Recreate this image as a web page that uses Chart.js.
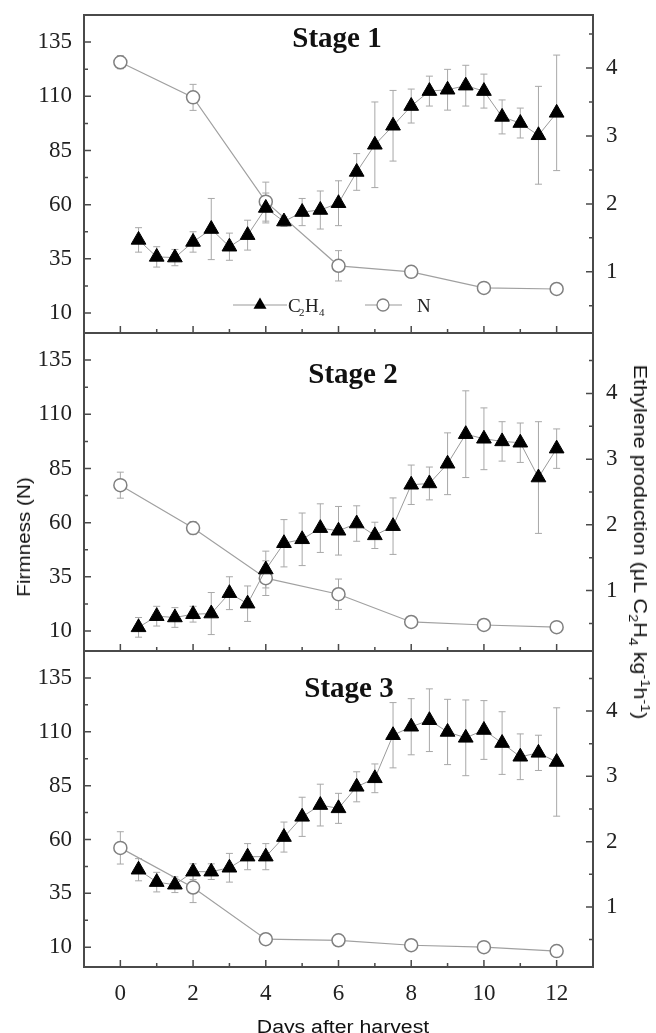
<!DOCTYPE html>
<html>
<head>
<meta charset="utf-8">
<script src="https://cdn.jsdelivr.net/npm/chart.js@4.4.1/dist/chart.umd.min.js"></script>
<style>
  html, body { margin: 0; padding: 0; background: #fff; }
  #wrap { position: relative; width: 656px; height: 1033px; overflow: hidden; }
  canvas { position: absolute; left: 0; }
  .axis-title {
    position: absolute;
    font-family: 'Liberation Sans', Arial, sans-serif;
    font-size: 18px;
    color: #111;
    white-space: nowrap;
    line-height: 18px;
  }
  .axis-title sub, .axis-title sup { font-size: 12px; line-height: 0; }
  #yLeftTitle { left: 24px; top: 537px; transform: translate(-50%, -50%) rotate(-90deg) scaleX(1.15); }
  #yRightTitle { left: 640px; top: 542px; transform: translate(-50%, -50%) rotate(90deg) scaleX(1.2); }
  #xTitle { left: 343px; top: 1018px; transform: translateX(-50%) scaleX(1.18); }
</style>
</head>
<body>
<div id="wrap">
  <canvas id="stage1" width="656" height="340" style="top:0px"></canvas>
  <canvas id="stage2" width="656" height="340" style="top:318px"></canvas>
  <canvas id="stage3" width="656" height="397" style="top:636px"></canvas>
  <div class="axis-title" id="yLeftTitle">Firmness (N)</div>
  <div class="axis-title" id="yRightTitle">Ethylene production (μL C<sub>2</sub>H<sub>4</sub> kg<sup>-1</sup>h<sup>-1</sup>)</div>
  <div class="axis-title" id="xTitle">Days after harvest</div>
</div>
<script>
// Firmness (N) and ethylene (C2H4) after harvest, three ripening stages

const ethDays = [0.5, 1, 1.5, 2, 2.5, 3, 3.5, 4, 4.5, 5, 5.5, 6, 6.5, 7, 7.5, 8, 8.5, 9, 9.5, 10, 10.5, 11, 11.5, 12];
const firmDays = [0, 2, 4, 6, 8, 10, 12];

const xTicks = [0, 2, 4, 6, 8, 10, 12];
const xMinorTicks = [1, 3, 5, 7, 9, 11];
const firmTicks = [10, 35, 60, 85, 110, 135];
const firmMinorTicks = [22.5, 47.5, 72.5, 97.5, 122.5];
const ethTicks = [1, 2, 3, 4];
const ethMinorTicks = [0.5, 1.5, 2.5, 3.5, 4.5];

const stageNames = ['Stage 1', 'Stage 2', 'Stage 3'];

// Stage 1
const eth1 = [1.47, 1.22, 1.21, 1.44, 1.63, 1.37, 1.54, 1.94, 1.74, 1.88, 1.91, 2.01, 2.47, 2.87, 3.15, 3.44, 3.66, 3.68, 3.74, 3.66, 3.28, 3.19, 3.01, 3.34];
const eth1Err = [0.18, 0.15, 0.12, 0.15, 0.45, 0.2, 0.22, 0.22, 0.07, 0.2, 0.28, 0.33, 0.27, 0.63, 0.52, 0.25, 0.22, 0.3, 0.3, 0.25, 0.25, 0.22, 0.72, 0.85];
const firm1 = [125.7, 109.5, 61.4, 31.8, 29, 21.6, 21.1];
const firm1Err = [3, 6, 9, 7, 2.5, 1.5, 1.5];

// Stage 2
const eth2 = [0.44, 0.61, 0.59, 0.64, 0.65, 0.96, 0.80, 1.32, 1.72, 1.78, 1.95, 1.91, 2.02, 1.84, 1.98, 2.61, 2.63, 2.93, 3.38, 3.31, 3.27, 3.25, 2.72, 3.16];
const eth2Err = [0.15, 0.15, 0.15, 0.12, 0.32, 0.25, 0.27, 0.28, 0.36, 0.4, 0.37, 0.37, 0.27, 0.2, 0.43, 0.3, 0.25, 0.47, 0.66, 0.47, 0.3, 0.3, 0.85, 0.3];
const firm2 = [77.3, 57.5, 34.4, 27, 14.2, 12.8, 11.8];
const firm2Err = [6, 3, 8, 7, 1.5, 1.5, 1.5];

// Stage 3
const eth3 = [1.57, 1.38, 1.34, 1.54, 1.54, 1.6, 1.77, 1.77, 2.07, 2.38, 2.56, 2.51, 2.84, 2.97, 3.63, 3.76, 3.86, 3.68, 3.59, 3.71, 3.51, 3.3, 3.36, 3.22];
const eth3Err = [0.17, 0.15, 0.12, 0.12, 0.12, 0.22, 0.2, 0.2, 0.23, 0.3, 0.32, 0.23, 0.23, 0.22, 0.5, 0.43, 0.48, 0.5, 0.58, 0.45, 0.48, 0.35, 0.27, 0.83];
const firm3 = [56.1, 37.7, 13.7, 13.2, 10.9, 10, 8.2];
const firm3Err = [7.5, 7, 1.5, 1, 1.5, 1, 1.5];

const serif = '"Liberation Serif", "Times New Roman", serif';

function toPoints(xs, ys) {
  return xs.map((x, i) => ({ x: x, y: ys[i] }));
}

// error bars behind the markers
const errorBars = {
  id: 'errorBars',
  beforeDatasetsDraw(chart) {
    const ctx = chart.ctx;
    const xScale = chart.scales.x;
    ctx.save();
    ctx.strokeStyle = '#a8a8a8';
    ctx.lineWidth = 1;
    chart.data.datasets.forEach(ds => {
      const yScale = chart.scales[ds.yAxisID];
      ds.data.forEach((p, j) => {
        const e = ds.errors[j];
        const x = xScale.getPixelForValue(p.x);
        const y1 = yScale.getPixelForValue(p.y + e);
        const y2 = yScale.getPixelForValue(p.y - e);
        ctx.beginPath();
        ctx.moveTo(x, y1); ctx.lineTo(x, y2);
        ctx.moveTo(x - 3.5, y1); ctx.lineTo(x + 3.5, y1);
        ctx.moveTo(x - 3.5, y2); ctx.lineTo(x + 3.5, y2);
        ctx.stroke();
      });
    });
    ctx.restore();
  }
};

// box frame and inward tick marks
const frameAndTicks = {
  id: 'frameAndTicks',
  afterDraw(chart) {
    const { ctx, chartArea: a, scales } = chart;
    ctx.save();
    ctx.strokeStyle = '#4a4a4a';
    ctx.lineWidth = 1.5;
    ctx.beginPath();
    xTicks.forEach(v => { const x = scales.x.getPixelForValue(v); ctx.moveTo(x, a.bottom); ctx.lineTo(x, a.bottom - 7); });
    xMinorTicks.forEach(v => { const x = scales.x.getPixelForValue(v); ctx.moveTo(x, a.bottom); ctx.lineTo(x, a.bottom - 4); });
    firmTicks.forEach(v => { const y = scales.yFirm.getPixelForValue(v); ctx.moveTo(a.left, y); ctx.lineTo(a.left + 7, y); });
    firmMinorTicks.forEach(v => { const y = scales.yFirm.getPixelForValue(v); ctx.moveTo(a.left, y); ctx.lineTo(a.left + 4, y); });
    ethTicks.forEach(v => { const y = scales.yEth.getPixelForValue(v); ctx.moveTo(a.right, y); ctx.lineTo(a.right - 7, y); });
    ethMinorTicks.forEach(v => { const y = scales.yEth.getPixelForValue(v); ctx.moveTo(a.right, y); ctx.lineTo(a.right - 4, y); });
    ctx.stroke();
    ctx.lineWidth = 2;
    ctx.strokeRect(a.left, a.top, a.right - a.left, a.bottom - a.top);
    ctx.restore();
  }
};

function drawLegend(ctx, a) {
  const y = a.bottom - 28;
  ctx.save();
  ctx.strokeStyle = '#999';
  ctx.lineWidth = 1;
  ctx.beginPath();
  ctx.moveTo(a.left + 149, y); ctx.lineTo(a.left + 203, y);
  ctx.moveTo(a.left + 281, y); ctx.lineTo(a.left + 318, y);
  ctx.stroke();

  // triangle marker
  const tx = a.left + 176, r = 7.5;
  ctx.fillStyle = '#000';
  ctx.beginPath();
  ctx.moveTo(tx, y - r);
  ctx.lineTo(tx + r * 0.866, y + r * 0.5);
  ctx.lineTo(tx - r * 0.866, y + r * 0.5);
  ctx.closePath();
  ctx.fill();

  // circle marker
  ctx.fillStyle = '#fff';
  ctx.strokeStyle = '#808080';
  ctx.lineWidth = 1.3;
  ctx.beginPath();
  ctx.arc(a.left + 299, y, 6, 0, Math.PI * 2);
  ctx.fill();
  ctx.stroke();

  ctx.fillStyle = '#222';
  ctx.textBaseline = 'alphabetic';
  ctx.textAlign = 'left';
  const base = y + 7;
  ctx.font = '19px ' + serif;
  ctx.fillText('C', a.left + 204, base);
  ctx.fillText('H', a.left + 221, base);
  ctx.fillText('N', a.left + 333, base);
  ctx.font = '11px ' + serif;
  ctx.fillText('2', a.left + 215, base + 4);
  ctx.fillText('4', a.left + 235, base + 4);
  ctx.restore();
}

// stage title and legend inside the panel
const panelLabels = {
  id: 'panelLabels',
  afterDatasetsDraw(chart, args, opts) {
    const ctx = chart.ctx;
    const a = chart.chartArea;
    ctx.save();
    ctx.font = 'bold 29px ' + serif;
    ctx.fillStyle = '#111';
    ctx.textAlign = 'center';
    ctx.textBaseline = 'alphabetic';
    ctx.fillText(opts.title, opts.titleX, a.top + opts.titleY);
    ctx.restore();
    if (opts.legend) drawLegend(ctx, a);
  }
};

const panels = [
  { id: 'stage1', title: stageNames[0], eth: eth1, ethErr: eth1Err, firm: firm1, firmErr: firm1Err,
    ethMin: 0.1, ethMax: 4.78, titleX: 337, titleY: 32, legend: true, showX: false, xHeight: 7 },
  { id: 'stage2', title: stageNames[1], eth: eth2, ethErr: eth2Err, firm: firm2, firmErr: firm2Err,
    ethMin: 0.08, ethMax: 4.92, titleX: 353, titleY: 50, legend: false, showX: false, xHeight: 7 },
  { id: 'stage3', title: stageNames[2], eth: eth3, ethErr: eth3Err, firm: firm3, firmErr: firm3Err,
    ethMin: 0.08, ethMax: 4.92, titleX: 349, titleY: 46, legend: false, showX: true, xHeight: 66 }
];

function renderPanel(p) {
  const canvas = document.getElementById(p.id);
  const tickFont = { family: serif, size: 23 };

  new Chart(canvas, {
    type: 'line',
    data: {
      datasets: [
        {
          label: 'C2H4',
          data: toPoints(ethDays, p.eth),
          errors: p.ethErr,
          yAxisID: 'yEth',
          borderColor: '#9a9a9a',
          borderWidth: 1,
          pointStyle: 'triangle',
          pointRadius: 8.5,
          pointBackgroundColor: '#000',
          pointBorderColor: '#000',
          pointBorderWidth: 1,
          tension: 0
        },
        {
          label: 'N',
          data: toPoints(firmDays, p.firm),
          errors: p.firmErr,
          yAxisID: 'yFirm',
          borderColor: '#a0a0a0',
          borderWidth: 1.2,
          pointStyle: 'circle',
          pointRadius: 6.5,
          pointBackgroundColor: '#fff',
          pointBorderColor: '#808080',
          pointBorderWidth: 1.5,
          tension: 0
        }
      ]
    },
    options: {
      responsive: false,
      animation: false,
      events: [],
      layout: { padding: { top: 15, left: 0, right: 0, bottom: 0 }, autoPadding: false },
      plugins: {
        legend: { display: false },
        tooltip: { enabled: false },
        panelLabels: { title: p.title, titleX: p.titleX, titleY: p.titleY, legend: p.legend }
      },
      scales: {
        x: {
          type: 'linear',
          position: 'bottom',
          min: -1,
          max: 13,
          grid: { display: false },
          border: { display: false },
          ticks: { display: p.showX, padding: 5, font: tickFont, color: '#222' },
          afterBuildTicks: s => { s.ticks = xTicks.map(v => ({ value: v })); },
          afterFit: s => { s.height = p.xHeight; s.paddingLeft = 0; s.paddingRight = 0; }
        },
        yFirm: {
          type: 'linear',
          position: 'left',
          min: 0.8,
          max: 147.5,
          grid: { display: false },
          border: { display: false },
          ticks: { padding: 4, font: tickFont, color: '#222' },
          afterBuildTicks: s => { s.ticks = firmTicks.map(v => ({ value: v })); },
          afterFit: s => { s.width = 84; s.paddingTop = 0; s.paddingBottom = 0; }
        },
        yEth: {
          type: 'linear',
          position: 'right',
          min: p.ethMin,
          max: p.ethMax,
          grid: { display: false },
          border: { display: false },
          ticks: { padding: 5, font: tickFont, color: '#222' },
          afterBuildTicks: s => { s.ticks = ethTicks.map(v => ({ value: v })); },
          afterFit: s => { s.width = 63; s.paddingTop = 0; s.paddingBottom = 0; }
        }
      }
    },
    plugins: [errorBars, frameAndTicks, panelLabels]
  });
}

panels.forEach(renderPanel);
</script>
</body>
</html>
